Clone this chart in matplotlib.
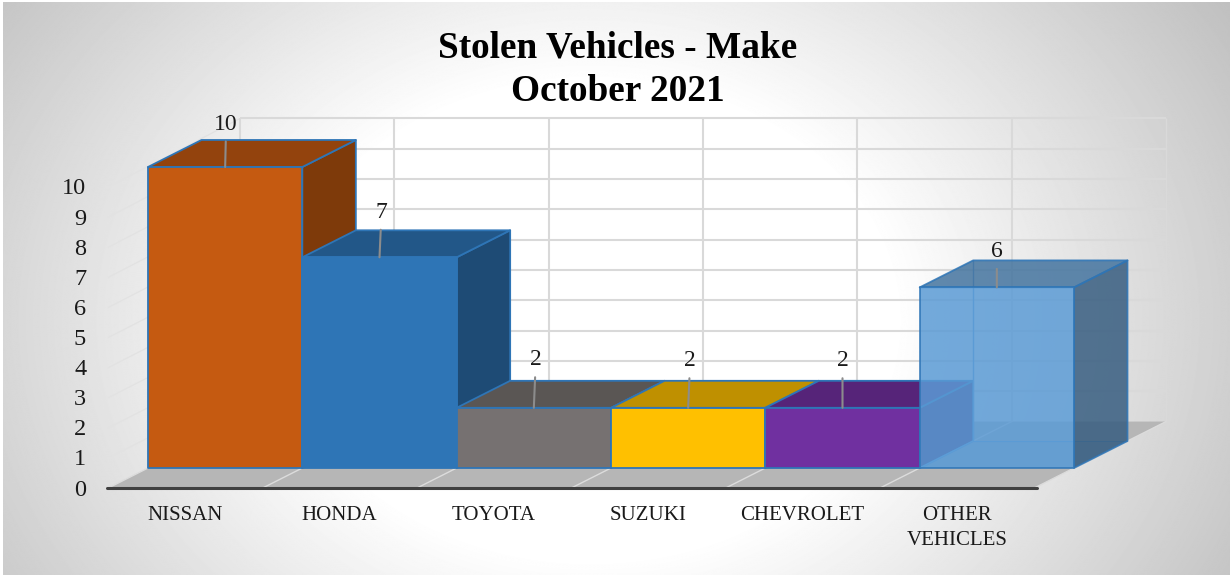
import numpy as np
import matplotlib
matplotlib.use("Agg")
import matplotlib.pyplot as plt
from matplotlib.transforms import ScaledTranslation

categories = ["NISSAN", "HONDA", "TOYOTA", "SUZUKI", "CHEVROLET", "OTHER\nVEHICLES"]
values = [10, 7, 2, 2, 2, 6]
y_ticks = list(range(0, 11))
title = "Stolen Vehicles - Make\nOctober 2021"

front_colors = ["#C55A11", "#2E75B6", "#767171", "#FFC000", "#7030A0", "#5B9BD5"]
top_colors = ["#93430D", "#225788", "#5A5654", "#BF9000", "#562479", "#44749F"]
side_colors = ["#7E3A0A", "#1E4B75", "#4D4A48", "#A67C00", "#4A1F69", "#375D80"]
bar_alpha = [1, 1, 1, 1, 1, 0.85]
label_off = [(1, 43), (2, 45), (2, 48), (2, 47), (0, 47), (0, 36)]

W, H, DPI = 1232, 577, 100
FONT = "Liberation Serif"
EDGE = "#2E75B6"
GRID = "#D9D9D9"
FLOOR = "#B6B6B6"

fig = plt.figure(figsize=(W / DPI, H / DPI), dpi=DPI, facecolor="white")

# background gradient (panel with thin margin)
bg = fig.add_axes([0, 0, 1, 1], zorder=-1)
yy, xx = np.mgrid[0:H, 0:W]
t = np.sqrt(((xx - 590) / 760.0) ** 2 + ((yy - 320) / 600.0) ** 2)
shade = 1.0 - 0.25 * np.clip((t - 0.40) / 0.60, 0, 1)
bg.imshow(shade, cmap="gray", vmin=0, vmax=1, extent=(3, W - 2, H - 2, 2), aspect="auto",
          interpolation="bilinear")
bg.set_xlim(0, W)
bg.set_ylim(H, 0)
bg.axis("off")

ax = fig.add_axes([148 / W, (H - 468) / H, 926 / W, 301 / H])
ax.set_xlim(0, 6)
ax.set_ylim(0, 10)
ax.patch.set_visible(False)
for s in ax.spines.values():
    s.set_visible(False)

DX = 53.5 / (926 / 6)
DY = 27 / 30.1
D_FRONT, D_BACK = -0.75, 1.72
WALL = 1.007


def pt(x, v, d):
    return x + d * DX, v + d * DY


def face(points, **kw):
    xs, ys = zip(*points)
    return ax.fill(xs, ys, clip_on=False, **kw)


def line(a, b, **kw):
    ax.plot([a[0], b[0]], [a[1], b[1]], clip_on=False, solid_capstyle="butt", **kw)


n = len(values)
# floor
face([pt(0, 0, D_FRONT), pt(n, 0, D_FRONT), pt(n, 0, D_BACK), pt(0, 0, D_BACK)],
     facecolor=FLOOR, edgecolor="none", zorder=1)
# wall grid
for v in y_ticks[1:]:
    line(pt(0, v * WALL, D_BACK), pt(n, v * WALL, D_BACK), color=GRID, lw=1.5, zorder=1.2)
    line(pt(0, v * WALL, D_BACK), pt(0, v, D_FRONT), color="#E2E2E2", lw=0.9, zorder=1.2)
for i in range(n + 1):
    lw = 1.0 if i == n else 1.5
    line(pt(i, 0, D_BACK), pt(i, 10 * WALL, D_BACK), color=GRID, lw=lw, zorder=1.2)
    line(pt(i, 0, D_FRONT), pt(i, 0, D_BACK), color="#DCDCDC", lw=1.0, zorder=1.3)
# axis base line
ax.plot([-0.266, 5.76], [-0.665, -0.665], color="#404040", lw=2.2, clip_on=False, zorder=1.5,
        solid_capstyle="round")

# bars
for i, v in enumerate(values):
    z = 2 + i * 0.1
    a = bar_alpha[i]
    ekw = dict(edgecolor=EDGE, linewidth=1.3, zorder=z, joinstyle="round")
    if a < 1:
        # inner faces of the translucent bar
        face([pt(i, 0, 0), pt(i + 1, 0, 0), pt(i + 1, 0, 1), pt(i, 0, 1)],
             facecolor=front_colors[i], alpha=0.25, zorder=z)
        line(pt(i, 0, 1), pt(i, v, 1), color="#5B9BD5", lw=1.0, zorder=z)
        line(pt(i, 0, 1), pt(i + 1, 0, 1), color="#5B9BD5", lw=0.8, zorder=z)
        line(pt(i, 0, 0), pt(i, 0, 1), color="#6BA6DC", lw=1.0, zorder=z)
    face([pt(i + 1, 0, 0), pt(i + 1, 0, 1), pt(i + 1, v, 1), pt(i + 1, v, 0)],
         facecolor=side_colors[i], alpha=None if a == 1 else a, **ekw)
    face([pt(i, v, 0), pt(i + 1, v, 0), pt(i + 1, v, 1), pt(i, v, 1)],
         facecolor=top_colors[i], alpha=None if a == 1 else a, **ekw)
    face([pt(i, 0, 0), pt(i + 1, 0, 0), pt(i + 1, v, 0), pt(i, v, 0)],
         facecolor=front_colors[i], alpha=None if a == 1 else a, **ekw)

# data labels with leader lines
for i, v in enumerate(values):
    ax.annotate(str(v), xy=(i + 0.5, v), xytext=label_off[i], textcoords="offset pixels",
                ha="center", va="center", fontsize=17, family=FONT, color="#1a1a1a", zorder=6,
                annotation_clip=False,
                arrowprops=dict(arrowstyle="-", color="#8C8C8C", lw=1.5, shrinkA=3, shrinkB=0,
                                zorder=5))

# axes ticks and labels
ax.set_yticks(y_ticks)
ax.set_yticklabels([str(v) for v in y_ticks], family=FONT, fontsize=17.5, color="#1a1a1a")
ax.set_xticks([i + 0.5 for i in range(n)])
ax.set_xticklabels(categories, family=FONT, fontsize=15, color="#1a1a1a")
ax.tick_params(axis="y", length=0, pad=44.5)
ax.tick_params(axis="x", length=0, pad=27.5)
oy = ScaledTranslation(0, -19.5 / DPI, fig.dpi_scale_trans)
ox = ScaledTranslation(-40 / DPI, 0, fig.dpi_scale_trans)
for lab in ax.get_yticklabels():
    lab.set_transform(lab.get_transform() + oy)
for lab in ax.get_xticklabels():
    lab.set_transform(lab.get_transform() + ox)
    lab.set_linespacing(1.43)

fig.suptitle(title, x=617.5 / W, y=1 - 31 / H, va="top", ha="center", family=FONT,
             fontweight="bold", fontsize=26.8, color="black", linespacing=1.29)

fig.savefig("out.png", dpi=DPI, facecolor="white")
